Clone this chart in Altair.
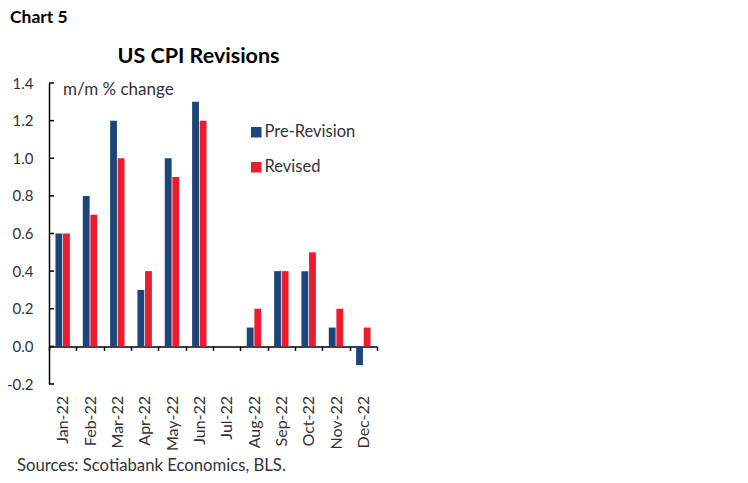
import altair as alt
import pandas as pd

months = ["Jan-22", "Feb-22", "Mar-22", "Apr-22", "May-22", "Jun-22",
          "Jul-22", "Aug-22", "Sep-22", "Oct-22", "Nov-22", "Dec-22"]
pre_revision = [0.6, 0.8, 1.2, 0.3, 1.0, 1.3, 0.0, 0.1, 0.4, 0.4, 0.1, -0.1]
revised = [0.6, 0.7, 1.0, 0.4, 0.9, 1.2, 0.0, 0.2, 0.4, 0.5, 0.2, 0.1]
series = ["Pre-Revision", "Revised"]
colors = ["#1D4579", "#EC1C2E"]
y_ticks = [-0.2, 0.0, 0.2, 0.4, 0.6, 0.8, 1.0, 1.2, 1.4]

rows = []
for m, a, b in zip(months, pre_revision, revised):
    rows.append({"month": m, "series": series[0], "value": a})
    rows.append({"month": m, "series": series[1], "value": b})
df = pd.DataFrame(rows)
ticks_df = pd.DataFrame({"value": y_ticks})
one = pd.DataFrame({"d": [0]})

W, H = 328, 301
YMIN, YMAX = -0.2, 1.4
below_zero_px = H * (0 - YMIN) / (YMAX - YMIN)
FONT = "Lato"

y_axis = alt.Axis(values=y_ticks, ticks=False, grid=False, labelOverlap=False,
                  labelExpr="datum.value < 0 ? '-' + format(-datum.value, '.1f') : format(datum.value, '.1f')",
                  labelPadding=16, domainColor="black", domainWidth=1.5,
                  labelFontSize=15, labelColor="#333333", labelFont=FONT)
y_scale = alt.Scale(domain=[YMIN, YMAX], nice=False)

bars = alt.Chart(df).mark_bar().encode(
    x=alt.X("month:N", sort=months, title=None,
            scale=alt.Scale(paddingInner=0, paddingOuter=0),
            axis=alt.Axis(labelAngle=-90, tickBand="extent", offset=-below_zero_px,
                          labelPadding=45, tickSize=4, tickColor="black",
                          domainColor="black", domainWidth=1.5, tickWidth=1.5,
                          labelFontSize=16, labelColor="#333333", labelOverlap=False,
                          labelFont=FONT, labelAlign="right", labelBaseline="middle")),
    xOffset=alt.XOffset("series:N", sort=series,
                        scale=alt.Scale(paddingOuter=0.85, paddingInner=0.1)),
    y=alt.Y("value:Q", title=None, scale=y_scale, axis=y_axis),
    y2=alt.datum(0),
    color=alt.Color("series:N", sort=series,
                    scale=alt.Scale(domain=series, range=colors),
                    legend=alt.Legend(orient="none", legendX=199, legendY=41,
                                      title=None, symbolType="square",
                                      symbolSize=110, symbolStrokeWidth=0,
                                      labelFontSize=16.5, labelFont=FONT,
                                      labelColor="#333333", rowPadding=18,
                                      labelOffset=0, padding=0)),
)

yticks = alt.Chart(ticks_df).mark_rule(color="black", strokeWidth=1.5).encode(
    y=alt.Y("value:Q", title=None, scale=y_scale, axis=y_axis),
    x=alt.value(0),
    x2=alt.value(5),
)


def label(txt, x, y, size, bold=False, align="left", color="#000000"):
    return alt.Chart(one).mark_text(
        text=txt, fontSize=size, font=FONT, fontWeight="bold" if bold else "normal",
        align=align, baseline="alphabetic", color=color,
    ).encode(x=alt.value(x), y=alt.value(y))


chart = alt.layer(
    bars,
    yticks,
    label("Chart 5", -39, -60, 17.5, bold=True),
    label("US CPI Revisions", 149.5, -20, 21.5, bold=True, align="center"),
    label("m/m % change", 14, 12, 17, color="#333333"),
    label("Sources: Scotiabank Economics, BLS.", -32, 388, 16.7, color="#333333"),
).properties(
    width=W, height=H,
    autosize=alt.AutoSizeParams(type="none"),
    padding={"left": 41, "top": 75, "right": 360, "bottom": 91},
).configure_view(stroke=None)

chart.save("out.html", embed_options={"renderer": "svg", "actions": False})
